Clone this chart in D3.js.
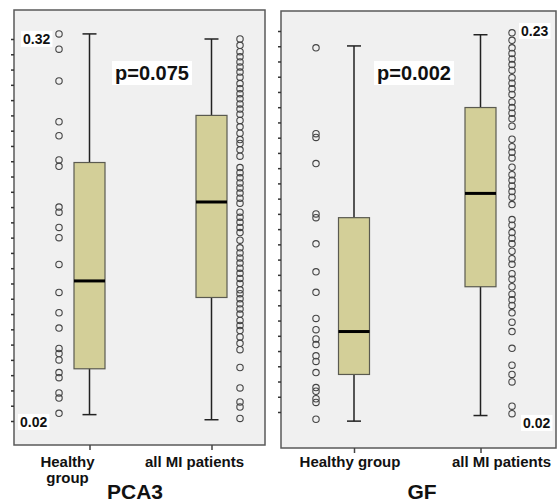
<!DOCTYPE html>
<html>
<head>
<meta charset="utf-8">
<script src="https://cdn.jsdelivr.net/npm/d3@7"></script>
<style>
  body { margin: 0; background: #fff; }
  svg text { font-family: "Liberation Sans", Arial, sans-serif; font-weight: bold; fill: #111; }
</style>
</head>
<body>
<div id="chart"></div>
<script>
!function () {
  'use strict';

  var groups = ["Healthy group", "all MI patients"];

  // box stats: [whisker low, q1, median, q3, whisker high]
  var pca3Box = [
    [0.025, 0.061, 0.130, 0.223, 0.324],
    [0.021, 0.117, 0.192, 0.260, 0.320]
  ];
  var gfBox = [
    [0.021, 0.046, 0.069, 0.130, 0.222],
    [0.024, 0.093, 0.143, 0.189, 0.228]
  ];

  var pca3Healthy = [0.324, 0.312, 0.287, 0.255, 0.244, 0.225, 0.220, 0.188, 0.184, 0.172,
    0.164, 0.143, 0.121, 0.105, 0.093, 0.077, 0.073, 0.068, 0.058, 0.054, 0.042, 0.038, 0.026];
  var pca3MI = [0.320, 0.315, 0.310, 0.306, 0.302, 0.298, 0.294, 0.290, 0.285, 0.281,
    0.277, 0.273, 0.269, 0.265, 0.261, 0.256, 0.251, 0.246, 0.241, 0.238, 0.233, 0.228,
    0.219, 0.215, 0.211, 0.207, 0.203, 0.199, 0.195, 0.191, 0.184, 0.180, 0.176, 0.172,
    0.168, 0.162, 0.156, 0.152, 0.148, 0.144, 0.140, 0.136, 0.132, 0.128, 0.123, 0.120,
    0.116, 0.112, 0.108, 0.104, 0.099, 0.095, 0.091, 0.086, 0.081, 0.076, 0.062, 0.046,
    0.035, 0.031, 0.022];
  var gfHealthy = [0.221, 0.175, 0.173, 0.159, 0.132, 0.130, 0.116, 0.101, 0.090, 0.076,
    0.070, 0.065, 0.062, 0.056, 0.053, 0.047, 0.039, 0.037, 0.033, 0.031, 0.022];
  var gfMI = [0.229, 0.225, 0.221, 0.218, 0.215, 0.212, 0.209, 0.205, 0.202, 0.199,
    0.196, 0.192, 0.189, 0.186, 0.183, 0.179, 0.172, 0.168, 0.165, 0.162, 0.157, 0.153,
    0.150, 0.147, 0.144, 0.141, 0.137, 0.129, 0.126, 0.122, 0.119, 0.116, 0.112, 0.108,
    0.105, 0.100, 0.097, 0.093, 0.089, 0.086, 0.083, 0.079, 0.074, 0.069, 0.060, 0.051,
    0.046, 0.042, 0.029, 0.025];

  var svg = d3.select("#chart").append("svg")
    .attr("width", 559)
    .attr("height", 504);

  function drawPanel (o) {
    var g = svg.append("g");

    var y = d3.scaleLinear().domain(o.domain).range(o.yRange);
    var x = d3.scalePoint().domain(groups).range(o.xRange);

    g.append("rect")
      .attr("x", o.frame[0]).attr("y", o.frame[1])
      .attr("width", o.frame[2] - o.frame[0]).attr("height", o.frame[3] - o.frame[1])
      .style("fill", "#f0f0f0")
      .style("stroke", "#5a5a5a")
      .style("stroke-width", 1.5);

    // minor ticks on the left edge
    var yAxis = d3.axisLeft(y).tickValues(o.ticks).tickSize(3).tickFormat("");
    var ya = g.append("g").attr("transform", "translate(" + o.frame[0] + ",0)").call(yAxis);
    ya.select(".domain").remove();
    ya.selectAll("line").style("stroke", "#333").style("stroke-width", 1.5);

    // category ticks
    var xAxis = d3.axisBottom(x).tickSize(5).tickFormat("");
    var xa = g.append("g").attr("transform", "translate(0," + o.frame[3] + ")").call(xAxis);
    xa.select(".domain").remove();
    xa.selectAll("line").style("stroke", "#444").style("stroke-width", 1.5);

    var bw = 31, cap = 14;
    var boxes = g.selectAll("g.box")
      .data(o.box)
      .enter().append("g")
      .attr("class", "box");

    boxes.append("line")
      .attr("x1", function (d, i) { return x(groups[i]); })
      .attr("x2", function (d, i) { return x(groups[i]); })
      .attr("y1", function (d) { return y(d[4]); })
      .attr("y2", function (d) { return y(d[0]); })
      .style("stroke", "#222").style("stroke-width", 1.5);

    [0, 4].forEach(function (k) {
      boxes.append("line")
        .attr("x1", function (d, i) { return x(groups[i]) - cap / 2; })
        .attr("x2", function (d, i) { return x(groups[i]) + cap / 2; })
        .attr("y1", function (d) { return y(d[k]); })
        .attr("y2", function (d) { return y(d[k]); })
        .style("stroke", "#222").style("stroke-width", 1.5);
    });

    boxes.append("rect")
      .attr("x", function (d, i) { return x(groups[i]) - bw / 2; })
      .attr("y", function (d) { return y(d[3]); })
      .attr("width", bw)
      .attr("height", function (d) { return y(d[1]) - y(d[3]); })
      .style("fill", "#d3cf98")
      .style("stroke", "#5a5a50")
      .style("stroke-width", 1.2);

    boxes.append("line")
      .attr("x1", function (d, i) { return x(groups[i]) - bw / 2; })
      .attr("x2", function (d, i) { return x(groups[i]) + bw / 2; })
      .attr("y1", function (d) { return y(d[2]); })
      .attr("y2", function (d) { return y(d[2]); })
      .style("stroke", "#000").style("stroke-width", 3);

    o.points.forEach(function (pts, i) {
      g.selectAll("circle.p" + i)
        .data(pts)
        .enter().append("circle")
        .attr("class", "p" + i)
        .attr("cx", x(groups[i]) + o.dotOffset[i])
        .attr("cy", function (d) { return y(d); })
        .attr("r", 3.2)
        .style("fill", "none")
        .style("stroke", "#444")
        .style("stroke-width", 1.1);
    });

    // value labels with white boxes
    o.labels.forEach(function (l) {
      var t = g.append("text")
        .attr("x", l.x)
        .attr("y", y(l.v) + l.dy)
        .attr("dy", "0.35em")
        .style("font-size", "14px")
        .text(d3.format(".2f")(l.v));
      var bb = t.node().getBBox();
      g.insert("rect", function () { return t.node(); })
        .attr("x", bb.x - 2).attr("y", bb.y)
        .attr("width", bb.width + 4).attr("height", bb.height)
        .style("fill", "#fff");
    });

    var p = g.append("text")
      .attr("x", o.pPos[0]).attr("y", o.pPos[1])
      .attr("dy", "0.35em")
      .style("font-size", "20px")
      .text(o.pText);
    var pb = p.node().getBBox();
    g.insert("rect", function () { return p.node(); })
      .attr("x", pb.x - 3).attr("y", pb.y - 1)
      .attr("width", pb.width + 6).attr("height", pb.height + 2)
      .style("fill", "#fff");

    o.catLabels.forEach(function (c, i) {
      var t = g.append("text")
        .attr("x", x(groups[i]) + c.dx)
        .attr("y", 467)
        .attr("text-anchor", "middle")
        .style("font-size", "15px");
      c.lines.forEach(function (s, k) {
        t.append("tspan").attr("x", x(groups[i]) + c.dx).attr("dy", k ? 16 : 0).text(s);
      });
    });

    g.append("text")
      .attr("x", o.title[1]).attr("y", o.title[2])
      .attr("text-anchor", "middle")
      .style("font-size", "21px")
      .text(o.title[0]);
  }

  drawPanel({
    domain: [0.02, 0.32], yRange: [421, 39],
    xRange: [89.5, 211.5],
    frame: [14, 10, 265, 445],
    ticks: d3.range(26).map(function (i) { return 0.02 + i * 0.012; }),
    box: pca3Box,
    points: [pca3Healthy, pca3MI],
    dotOffset: [-30.5, 28.5],
    labels: [{ v: 0.32, x: 23, dy: 0 }, { v: 0.02, x: 20, dy: 1 }],
    pText: "p=0.075", pPos: [115, 73],
    catLabels: [{ dx: -22, lines: ["Healthy", "group"] }, { dx: -17, lines: ["all MI patients"] }],
    title: ["PCA3", 135, 499]
  });

  drawPanel({
    domain: [0.02, 0.23], yRange: [423, 31],
    xRange: [354, 480.5],
    frame: [281, 11, 556, 448],
    ticks: d3.range(26).map(function (i) { return 0.02 + 0.21 * 11 / 392 + i * 0.21 * 381 / 392 / 25; }),
    box: gfBox,
    points: [gfHealthy, gfMI],
    dotOffset: [-38, 31.5],
    labels: [{ v: 0.23, x: 521, dy: 0 }, { v: 0.02, x: 523, dy: 0 }],
    pText: "p=0.002", pPos: [377, 73],
    catLabels: [{ dx: -4, lines: ["Healthy group"] }, { dx: 21, lines: ["all MI patients"] }],
    title: ["GF", 422, 499]
  });

}();
</script>
</body>
</html>
